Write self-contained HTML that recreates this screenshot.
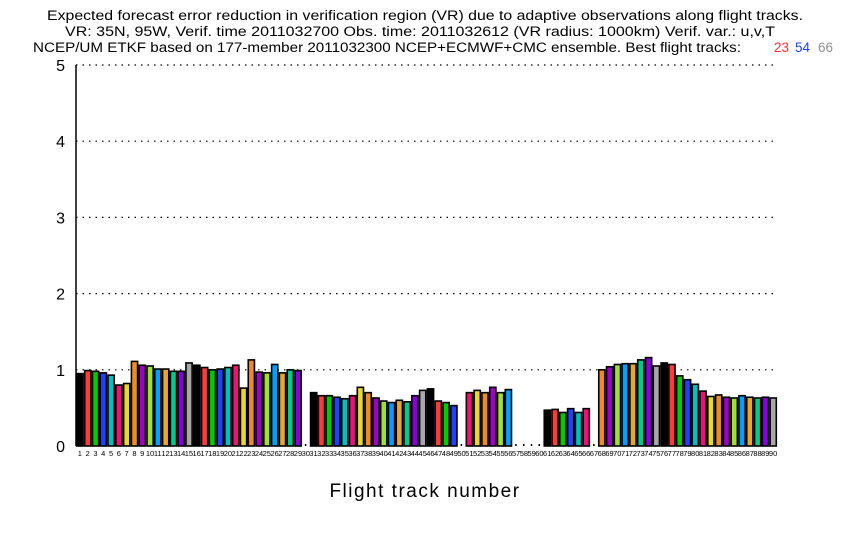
<!DOCTYPE html>
<html><head><meta charset="utf-8"><style>
body{margin:0;background:#fff;}
svg{display:block;font-family:"Liberation Sans",sans-serif;}
</style></head><body>
<svg id="chart" width="850" height="540" viewBox="0 0 850 540">
<g font-size="13.5" fill="#000">
<text x="47" y="20" textLength="756" lengthAdjust="spacingAndGlyphs">Expected forecast error reduction in verification region (VR) due to adaptive observations along flight tracks.</text>
<text x="65" y="36" textLength="710" lengthAdjust="spacingAndGlyphs">VR: 35N, 95W, Verif. time 2011032700 Obs. time: 2011032612 (VR radius: 1000km)   Verif. var.: u,v,T</text>
<text x="33" y="52" textLength="708" lengthAdjust="spacingAndGlyphs">NCEP/UM ETKF based on 177-member 2011032300 NCEP+ECMWF+CMC ensemble. Best flight tracks:</text>
<text x="774" y="52" fill="#ff3030">23</text>
<text x="795" y="52" fill="#2040ff">54</text>
<text x="818" y="52" fill="#909090">66</text>
</g>
<g id="grid"></g>
<g id="bars"></g>
<g id="xlabels"></g>
<text x="425" y="497" font-size="19" text-anchor="middle" letter-spacing="1.5">Flight track number</text>
</svg>
<script>
const values=[0.95,0.99,0.98,0.96,0.93,0.80,0.82,1.11,1.06,1.05,1.01,1.01,0.98,0.98,1.09,1.06,1.03,1.00,1.01,1.03,1.06,0.76,1.13,0.97,0.96,1.07,0.96,1.00,0.99,null,
0.70,0.66,0.66,0.64,0.62,0.66,0.77,0.70,0.63,0.59,0.57,0.60,0.58,0.66,0.73,0.75,0.59,0.57,0.53,null,
0.70,0.73,0.70,0.77,0.70,0.74,null,null,null,null,
0.47,0.48,0.44,0.49,0.44,0.49,null,
1.00,1.04,1.07,1.08,1.08,1.13,1.16,1.05,1.09,1.07,0.92,0.87,0.81,0.72,0.65,0.67,0.64,0.63,0.66,0.64,0.63,0.64,0.63];
const yTicks=[0,1,2,3,4,5];
const palette=["#000000","#ff3a3a","#00cc00","#2040ff","#00c0c0","#f0107a","#e8d830","#f08a28","#a000c8","#a0e030","#00a0ff","#e8a830","#00cc88","#8800dd","#a8a8a8"];
const NS="http://www.w3.org/2000/svg";
const X0=76,X1=777,Y0=446,Y5=65;
const slot=(X1-X0)/values.length;
function xs(i){return X0+i*slot;}
function ys(v){return Y0-(Y0-Y5)*v/5;}
function mk(tag,attrs,parent){const e=document.createElementNS(NS,tag);for(const k in attrs)e.setAttribute(k,attrs[k]);parent.appendChild(e);return e;}
const grid=document.getElementById('grid');
yTicks.forEach(t=>{
  if(t>0){const l=mk('line',{x1:X0,x2:X1,y1:ys(t),y2:ys(t),stroke:'#000','stroke-width':1.2,'stroke-dasharray':'1.5 5'},grid);
  
  }
  const tx=mk('text',{x:X0-11,y:ys(t)+6,'font-size':16,'text-anchor':'end'},grid);
  tx.textContent=t;
  
  
});
const ax=mk('line',{x1:X0,x2:X0,y1:Y5,y2:Y0,stroke:'#000','stroke-width':1.5},grid);


const bars=document.getElementById('bars');
const xl=document.getElementById('xlabels');
values.forEach((v,i)=>{
  const x=xs(i);
  if(v===null){
    const d=mk('rect',{x:x+3,y:Y0-2,width:1.5,height:2,fill:'#000'},bars);
    
    
  } else {
    const r=mk('rect',{x:x+0.9,y:ys(v),width:slot-1.6,height:Y0-ys(v),fill:palette[i%15],stroke:'#000','stroke-width':1.6},bars);
    
    
  }
  const t=mk('text',{x:x+slot/2,y:456,'font-size':7.5,'text-anchor':'middle'},xl);
  t.textContent=i+1;
  
  
});
</script>
</body></html>
